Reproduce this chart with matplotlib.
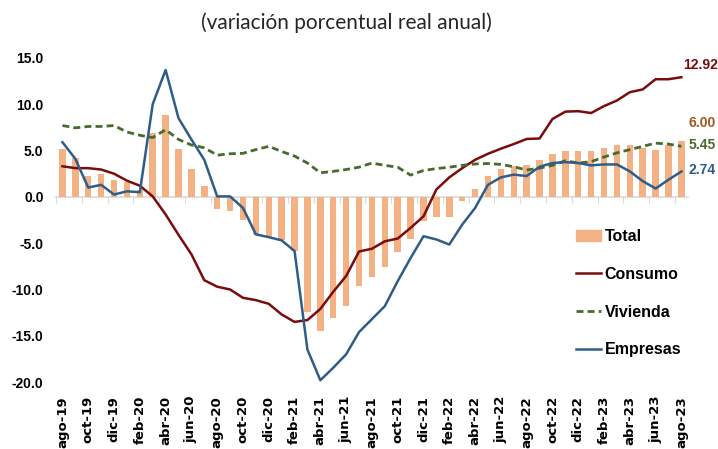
import numpy as np
import matplotlib
matplotlib.use("Agg")
import matplotlib.pyplot as plt
import matplotlib.patches as mpatches
import matplotlib.lines as mlines

# monthly, ago-19 .. ago-23
meses = ["ene", "feb", "mar", "abr", "may", "jun", "jul", "ago", "sep", "oct", "nov", "dic"]
periodos = []
for k in range(49):
    m = (7 + k) % 12
    a = 19 + (7 + k) // 12
    periodos.append("%s-%d" % (meses[m], a))

total = [5.2, 4.2, 2.3, 2.5, 1.8, 1.6, 0.7, 6.9, 8.8, 5.2, 3.0, 1.15,
         -1.3, -1.55, -2.45, -4.1, -4.35, -4.7, -5.8, -12.4, -14.5, -13.05, -11.8, -9.6,
         -8.6, -7.6, -6.0, -4.5, -2.6, -2.2, -2.2, -0.45, 0.8, 2.3, 3.0, 3.3,
         3.4, 4.0, 4.6, 4.9, 5.0, 4.95, 5.3, 5.6, 5.6, 5.3, 5.1, 5.6, 6.00]

consumo = [3.3, 3.1, 3.1, 2.95, 2.5, 1.75, 1.2, 0.05, -1.9, -4.1, -6.2, -9.0,
           -9.7, -10.0, -10.9, -11.15, -11.55, -12.7, -13.5, -13.3, -12.1, -10.25, -8.55, -5.9,
           -5.6, -4.8, -4.5, -3.35, -2.1, 0.8, 2.1, 3.1, 4.0, 4.65, 5.2, 5.7,
           6.25, 6.3, 8.4, 9.2, 9.25, 9.05, 9.8, 10.4, 11.3, 11.6, 12.7, 12.7, 12.92]

vivienda = [7.7, 7.45, 7.6, 7.6, 7.7, 7.0, 6.65, 6.4, 7.25, 6.2, 5.6, 5.3,
            4.5, 4.65, 4.7, 5.1, 5.45, 4.9, 4.4, 3.65, 2.6, 2.75, 2.95, 3.2,
            3.65, 3.4, 3.2, 2.35, 2.85, 3.05, 3.2, 3.4, 3.55, 3.6, 3.5, 3.25,
            2.9, 3.1, 3.4, 3.9, 3.65, 3.8, 4.3, 4.75, 5.1, 5.45, 5.8, 5.7, 5.45]

empresas = [5.9, 4.1, 1.0, 1.3, 0.25, 0.6, 0.5, 10.0, 13.7, 8.5, 6.2, 4.0,
            0.05, 0.05, -1.2, -4.05, -4.35, -4.7, -5.85, -16.5, -19.8, -18.45, -17.0, -14.6,
            -13.2, -11.8, -9.1, -6.6, -4.25, -4.6, -5.15, -3.0, -1.2, 1.3, 2.1, 2.4,
            2.25, 3.25, 3.65, 3.75, 3.65, 3.4, 3.5, 3.5, 2.75, 1.7, 0.9, 1.85, 2.74]

c_total = "#f4b183"
c_cons = "#7b0c0c"
c_viv = "#466b2c"
c_emp = "#2e5d89"

plt.rcParams['font.family'] = ['Liberation Sans', 'DejaVu Sans']

fig = plt.figure(figsize=(7.18, 4.49), dpi=100)
ax = fig.add_axes([0.078, 0.149, 0.880, 0.722])

x = np.arange(len(periodos))
ax.bar(x, total, width=0.5, color=c_total, zorder=2)
ax.plot(x, consumo, color=c_cons, lw=1.8, zorder=3)
ax.plot(x, vivienda, color=c_viv, lw=2.0, ls=(0, (2.5, 1.5)), zorder=3)
ax.plot(x, empresas, color=c_emp, lw=1.8, zorder=3)

ax.set_xlim(-0.5, len(periodos) - 0.5)
ax.set_ylim(-20, 15)
ax.set_yticks(np.arange(-20, 16, 5))
ax.set_yticklabels(["%.1f" % v for v in np.arange(-20, 16, 5)], fontsize=10, fontweight="bold")
ax.tick_params(axis="y", length=0, pad=9)

for s in ["top", "right", "left"]:
    ax.spines[s].set_visible(False)
ax.spines["bottom"].set_position(("data", 0))
ax.spines["bottom"].set_color("#d9d9d9")
ax.spines["bottom"].set_linewidth(1.2)
ax.spines["bottom"].set_zorder(1)
ax.set_xticks(np.arange(-0.5, len(periodos), 2))
ax.set_xticklabels([])
ax.tick_params(axis="x", length=4, color="#d9d9d9", direction="out")

sec = ax.secondary_xaxis(0)
sec.set_xticks(x[::2])
sec.set_xticklabels(periodos[::2], rotation=90, fontsize=9.5, fontweight="bold",
                    family="DejaVu Sans", va="top")
sec.tick_params(length=0, pad=10)
sec.spines["bottom"].set_visible(False)

fig.text(0.482, 0.950, "(variación porcentual real anual)", ha="center", va="center",
         fontsize=15, family="Lato", fontweight="normal", color="#262626")

# end labels
last = len(periodos) - 1
ax.annotate("%.2f" % consumo[-1], (last, consumo[-1]), xytext=(1, 9), textcoords="offset points",
            color=c_cons, fontsize=10, fontweight="bold", va="center")
ax.annotate("%.2f" % total[-1], (last, total[-1]), xytext=(5, 13), textcoords="offset points",
            color="#a0561c", fontsize=10, fontweight="bold", va="center")
ax.annotate("%.2f" % vivienda[-1], (last, vivienda[-1]), xytext=(5, 1), textcoords="offset points",
            color=c_viv, fontsize=10, fontweight="bold", va="center")
ax.annotate("%.2f" % empresas[-1], (last, empresas[-1]), xytext=(5, 1), textcoords="offset points",
            color=c_emp, fontsize=10, fontweight="bold", va="center")

handles = [mpatches.Patch(color=c_total, label="Total"),
           mlines.Line2D([], [], color=c_cons, lw=1.8, label="Consumo"),
           mlines.Line2D([], [], color=c_viv, lw=2.0, ls=(0, (2.5, 1.5)), label="Vivienda"),
           mlines.Line2D([], [], color=c_emp, lw=1.8, label="Empresas")]
ax.legend(handles=handles, loc="upper left", bbox_to_anchor=(0.8, 0.516), frameon=False,
          prop={"size": 11.5, "weight": "bold"}, handlelength=1.6, handletextpad=0.2,
          labelspacing=1.42)

fig.savefig("out.png", dpi=100)
